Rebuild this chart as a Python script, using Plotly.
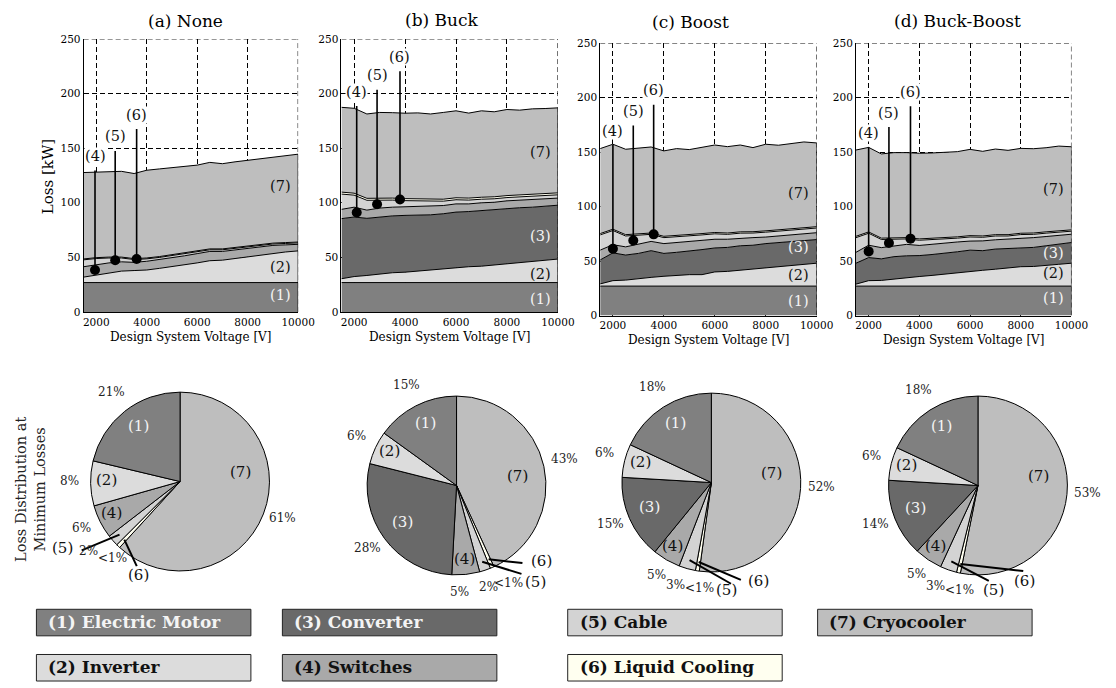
import numpy as np
import plotly.graph_objects as go

SERIF = "DejaVu Serif"
W, H = 1116, 688

# ---------------------------------------------------------------- data
voltage = [1500, 2000, 2500, 3000, 3500, 4000, 4500, 5000, 5500,
           6000, 6500, 7000, 7500, 8000, 8500, 9000, 9500, 10000]

components = ["(1) Electric Motor", "(2) Inverter", "(3) Converter", "(4) Switches",
              "(5) Cable", "(6) Liquid Cooling", "(7) Cryocooler"]
fill_colors = ["#808080", "#dcdcdc", "#696969", "#a9a9a9", "#d3d3d3", "#fffff0", "#bebebe"]
text_colors = ["#f4f4f4", "#111111", "#f4f4f4", "#111111", "#111111", "#111111", "#111111"]

# losses in kW, one list per component, topology "None"
motor_none = [27, 27, 27, 27, 27, 27, 27, 27, 27, 27, 27, 27, 27, 27, 27, 27, 27, 27]
inverter_none = [5, 7, 9, 10.5, 11, 11.5, 13, 14.5, 16, 18, 20, 20.5, 22, 23.5, 25.5, 27, 28, 29]
converter_none = [0, 0, 0, 0, 0, 0, 0, 0, 0, 0, 0, 0, 0, 0, 0, 0, 0, 0]
switches_none = [9.5, 9.5, 9.0, 8.5, 7.5, 8.0, 8.0, 8.5, 8.5, 8.5, 8.5, 8.0, 8.0, 7.5, 7.0, 7.0, 6.5, 6.0]
cable_none = [6.3, 5.5, 4.5, 3.5, 2.6, 2.2, 2.0, 1.8, 1.7, 1.6, 1.5, 1.5, 1.4, 1.4, 1.3, 1.3, 1.3, 1.3]
cooling_none = [0.8, 0.8, 0.8, 0.8, 0.8, 0.8, 0.8, 0.8, 0.8, 0.8, 0.8, 0.8, 0.8, 0.8, 0.8, 0.8, 0.8, 0.8]
cryo_none = [79.1, 78.2, 78.2, 78.5, 77.9, 80.3, 80.2, 79.4, 79.2, 78.6, 79.2, 78.0, 78.3, 78.8, 78.9, 78.9, 79.7, 80.4]

# topology "Buck"
motor_buck = [27, 27, 27, 27, 27, 27, 27, 27, 27, 27, 27, 27, 27, 27, 27, 27, 27, 27]
inverter_buck = [3.5, 5.5, 6.5, 8, 9, 9.5, 10.5, 11.5, 13, 14, 14.5, 15, 16, 17, 18, 19, 20.5, 21.5]
converter_buck = [55, 54.5, 52.3, 52.2, 52, 52, 51.3, 50.5, 50, 50.5, 50.5, 51, 50.5, 50.8, 50.5, 50, 49.5, 49.3]
switches_buck = [8.5, 9, 7.5, 8, 8, 8, 8, 8, 7.5, 7.5, 7, 7, 7, 7, 7, 6.8, 6.6, 6.5]
cable_buck = [14, 11, 9, 7.5, 6.5, 5.5, 5, 4.5, 4, 3.8, 3.5, 3.3, 3.2, 3, 3, 3, 3, 3]
cooling_buck = [1.8, 1.8, 1.8, 1.8, 1.8, 1.8, 1.8, 1.8, 1.8, 1.8, 1.8, 1.8, 1.8, 1.8, 1.8, 1.8, 1.8, 1.8]
cryo_buck = [77.6, 77.7, 77.2, 78.2, 78.2, 78.2, 78.7, 78.0, 79.4, 79.6, 77.8, 79.1, 77.8, 78.8, 77.5, 78.4, 77.9, 77.8]

# topology "Boost"
motor_boost = [27, 27, 27, 27, 27, 27, 27, 27, 27, 27, 27, 27, 27, 27, 27, 27, 27, 27]
inverter_boost = [2, 5, 5.5, 7, 8, 9, 10, 10.5, 10.5, 13, 13.5, 14.5, 15.5, 17, 18, 18.5, 20, 21]
converter_boost = [22, 25.5, 23, 23, 24.5, 21, 21, 21.5, 23, 22, 22, 22.5, 22, 22, 22, 22.5, 22, 21.7]
switches_boost = [9, 7.5, 7.5, 8.5, 8.5, 9, 9, 9, 8.5, 8, 7.5, 7, 7, 6, 6, 6, 6, 6.3]
cable_boost = [14, 13, 10, 8, 6.5, 5.5, 5.2, 5, 5, 5, 4.5, 4.6, 4.2, 4.5, 4.3, 4.3, 4.3, 4.3]
cooling_boost = [1.2, 1.2, 1.2, 1.2, 1.2, 1.2, 1.2, 1.2, 1.2, 1.2, 1.2, 1.2, 1.2, 1.2, 1.2, 1.2, 1.2, 1.2]
cryo_boost = [78.0, 78.0, 78.4, 79.1, 79.0, 78.4, 79.8, 78.1, 79.3, 80.3, 79.3, 79.7, 77.2, 79.5, 77.8, 78.3, 78.8, 76.9]

# topology "Buck-Boost"
motor_bb = [27, 27, 27, 27, 27, 27, 27, 27, 27, 27, 27, 27, 27, 27, 27, 27, 27, 27]
inverter_bb = [1.8, 5, 5.2, 6.5, 8, 8.8, 9.8, 11, 12.5, 14, 14.5, 15.5, 16.5, 17.8, 18, 18.7, 20, 21]
converter_bb = [19.2, 21.2, 19.8, 20.5, 19.8, 19.2, 19.2, 19, 19, 19, 18, 18.5, 18, 17.7, 17.5, 18.3, 18.5, 19]
switches_bb = [10, 11.3, 10.3, 10, 10.5, 9.3, 9.5, 9.5, 9, 8.3, 9, 8.5, 8.5, 8.2, 9, 8.5, 8, 7.6]
cable_bb = [13.5, 11, 7.5, 6, 5, 4.8, 4.2, 3.6, 3.5, 3.8, 3.3, 3.5, 3, 3.6, 3, 3.1, 3, 2.8]
cooling_bb = [1.2, 1.2, 1.2, 1.2, 1.2, 1.2, 1.2, 1.2, 1.2, 1.2, 1.2, 1.2, 1.2, 1.2, 1.2, 1.2, 1.2, 1.2]
cryo_bb = [79.2, 77.6, 77.3, 78.3, 78.0, 78.6, 78.3, 78.2, 78.2, 79.2, 77.7, 78.6, 77.4, 77.9, 77.4, 77.2, 77.8, 76.3]

# loss distribution at the minimum-loss design point, percent
share_none = [21, 8, 0, 6, 2, 0.7, 61]
share_buck = [15, 6, 28, 5, 2, 0.7, 43]
share_boost = [18, 6, 15, 5, 3, 0.7, 52]
share_bb = [18, 6, 14, 5, 3, 0.7, 53]
share_text_none = ["21%", "8%", "", "6%", "2%", "&lt;1%", "61%"]
share_text_buck = ["15%", "6%", "28%", "5%", "2%", "&lt;1%", "43%"]
share_text_boost = ["18%", "6%", "15%", "5%", "3%", "&lt;1%", "52%"]
share_text_bb = ["18%", "6%", "14%", "5%", "3%", "&lt;1%", "53%"]

titles = ["(a) None", "(b) Buck", "(c) Boost", "(d) Buck-Boost"]
y_ticks = [0, 50, 100, 150, 200, 250]
x_ticks = [2000, 4000, 6000, 8000, 10000]
x_tick_text = ["2000", "4000", "6000", "8000", "10000"]

# ---------------------------------------------------------------- layout geometry (pixels)
axes_px = [(84, 302, 33.5, 311.5), (346, 566, 33.5, 311.5),
           (609, 829, 37.8, 315), (869, 1088, 37.8, 315)]
title_px = [(188, 18), (448, 17), (701, 19), (972, 18)]
area_label_y = [
    {0: 13, 1: 38.5, 6: 113},
    {0: 9.5, 1: 32, 2: 67, 6: 144},
    {0: 10.5, 1: 34.5, 2: 60, 6: 110},
    {0: 13.5, 1: 36, 2: 55, 6: 113},
]
callout_x = [[1950, 2750, 3600], [2100, 2900, 3800], [2000, 2800, 3600], [2000, 2800, 3650]]
callout_label_y = [[140, 158, 178], [199, 214, 231], [167, 185, 204], [165, 183.5, 202.5]]

pie_center = [(182, 484), (463, 488), (722, 485), (993, 488)]
PIE_R = 91
slice_label_r = [0.75, 0.82, 0.75, 0.86, None, None, 0.68]
slice_label_angle = {6: 276}   # the cryocooler label sits just above three o'clock
# sideways nudge of the percentages around the thinnest slices, px
pct_nudge = [{4: -9, 5: 9}, {3: -9, 4: -3, 5: 8}, {4: -6, 5: 6}, {4: -6, 5: 6}]
# leader lines for the thin slices: (end offset, label offset) in px from the pie centre
leaders = [
    {4: ((-100, 70), (-119, 71)), 5: ((-44, 86), (-42, 98))},
    {4: ((66, 90), (80, 101)), 5: ((67, 79), (86, 80))},
    {4: ((20, 103), (15, 112)), 5: ((30, 99), (48, 103))},
    {4: ((11, 97), (16, 109)), 5: ((46, 87), (47, 100))},
]

legend_cols = [36, 286, 576, 830]
legend_rows = [(614, 641), (660, 687)]
legend_slot = [(0, 0), (0, 1), (1, 0), (1, 1), (2, 0), (2, 1), (3, 0)]
LEGEND_W = 218

panels = [
    [motor_none, inverter_none, converter_none, switches_none, cable_none, cooling_none, cryo_none],
    [motor_buck, inverter_buck, converter_buck, switches_buck, cable_buck, cooling_buck, cryo_buck],
    [motor_boost, inverter_boost, converter_boost, switches_boost, cable_boost, cooling_boost, cryo_boost],
    [motor_bb, inverter_bb, converter_bb, switches_bb, cable_bb, cooling_bb, cryo_bb],
]
shares = [share_none, share_buck, share_boost, share_bb]
share_texts = [share_text_none, share_text_buck, share_text_boost, share_text_bb]


def px(x):
    return x / W


def py(y):
    return 1 - y / H


def text(x, y, s, size, color="#111", xref="paper", yref="paper", angle=0,
         xanchor="center", bold=False, yshift=3, bg=None):
    d = dict(x=x, y=y, xref=xref, yref=yref, text=f"<b>{s}</b>" if bold else s,
             showarrow=False, textangle=angle, xanchor=xanchor, yanchor="middle",
             yshift=yshift, font=dict(family=SERIF, size=size, color=color))
    if bg:
        d.update(bgcolor=bg, borderpad=0)
    return d


fig = go.Figure()
annotations = []
shapes = []
GRID_DASH = "5px,3px"

for i, layers in enumerate(panels):
    xa = "x" if i == 0 else f"x{i + 1}"
    ya = "y" if i == 0 else f"y{i + 1}"

    # dashed frame on the top and right edges
    shapes.append(dict(type="line", xref=xa, yref=ya, x0=1500, x1=10000, y0=250, y1=250,
                       layer="below", line=dict(color="black", width=1, dash=GRID_DASH)))
    shapes.append(dict(type="line", xref=xa, yref=ya, x0=10000, x1=10000, y0=0, y1=250,
                       layer="below", line=dict(color="black", width=1, dash=GRID_DASH)))

    for k, vals in enumerate(layers):
        if not any(vals):
            continue
        fig.add_trace(go.Scatter(
            x=voltage, y=vals, stackgroup=f"stack{i}", mode="lines",
            line=dict(color="black", width=1), fillcolor=fill_colors[k],
            xaxis=xa, yaxis=ya, hoverinfo="skip", showlegend=False))

    cum = np.cumsum(np.array(layers, dtype=float), axis=0)
    # closing edge of the stacked area at the highest voltage
    fig.add_trace(go.Scatter(x=[voltage[-1], voltage[-1]], y=[0, cum[-1][-1]], mode="lines",
                             line=dict(color="black", width=1), xaxis=xa, yaxis=ya,
                             hoverinfo="skip", showlegend=False))

    # callouts for the thin layers (4), (5), (6)
    for j, k in enumerate([3, 4, 5]):
        cx = callout_x[i][j]
        lo = np.interp(cx, voltage, cum[k - 1])
        hi = np.interp(cx, voltage, cum[k])
        mid = (lo + hi) / 2
        ly = callout_label_y[i][j]
        fig.add_trace(go.Scatter(x=[cx, cx], y=[mid, ly - 10.5], mode="lines",
                                 line=dict(color="black", width=1.6), xaxis=xa, yaxis=ya,
                                 hoverinfo="skip", showlegend=False))
        fig.add_trace(go.Scatter(x=[cx], y=[mid], mode="markers",
                                 marker=dict(color="black", size=10), xaxis=xa, yaxis=ya,
                                 hoverinfo="skip", showlegend=False))
        annotations.append(text(cx, ly, f"({k + 1})", 14.5, "#111", xa, ya, bg="white"))

    for k, yv in area_label_y[i].items():
        annotations.append(text(9300, yv, f"({k + 1})", 14.5, text_colors[k], xa, ya))

    x0, x1, y0, y1 = axes_px[i]
    axis_x = dict(domain=[px(x0), px(x1)], range=[1500, 10000], tickvals=x_ticks, ticktext=x_tick_text,
                  showgrid=True, gridcolor="black", gridwidth=1, griddash=GRID_DASH,
                  showline=True, linecolor="black", linewidth=1, ticks="", zeroline=False,
                  tickfont=dict(family=SERIF, size=10.5, color="black"), anchor=ya)
    axis_y = dict(domain=[py(y1), py(y0)], range=[0, 250], tickvals=y_ticks,
                  showgrid=True, gridcolor="black", gridwidth=1, griddash=GRID_DASH,
                  showline=True, linecolor="black", linewidth=1, ticks="", zeroline=False,
                  tickfont=dict(family=SERIF, size=10.5, color="black"), anchor=xa)
    key = "" if i == 0 else str(i + 1)
    fig.update_layout(**{f"xaxis{key}": axis_x, f"yaxis{key}": axis_y})

    tx, ty = title_px[i]
    annotations.append(text(px(tx), py(ty), titles[i], 17, "black"))
    annotations.append(text(px((x0 + x1) / 2), py(y1 + 25), "Design System Voltage [V]", 12,
                            "black", yshift=0))

annotations.append(text(px(48), py(174), "Loss [kW]", 15, "black", angle=-90, yshift=0))

# ---------------------------------------------------------------- pies
for i, sh in enumerate(shares):
    cx, cy = pie_center[i]
    idx = [k for k in range(7) if sh[k] > 0]
    # drawn clockwise from 12 o'clock in reverse order, so component (1) opens
    # counter-clockwise from the top
    rev = idx[::-1]
    fig.add_trace(go.Pie(
        values=[sh[k] for k in rev], labels=[components[k] for k in rev],
        marker=dict(colors=[fill_colors[k] for k in rev], line=dict(color="black", width=1)),
        sort=False, direction="clockwise", rotation=0, textinfo="none",
        hoverinfo="skip", showlegend=False,
        domain=dict(x=[px(cx - PIE_R), px(cx + PIE_R)], y=[py(cy + PIE_R), py(cy - PIE_R)])))

    total = sum(sh[k] for k in idx)
    before = 0.0
    for k in idx:
        mid_deg = 360 * (before + sh[k] / 2) / total
        before += sh[k]

        def at(r, deg):
            t = np.radians(deg)
            return cx - r * np.sin(t), cy - r * np.cos(t)

        qx, qy = at(1.23 * PIE_R, mid_deg)
        qx += pct_nudge[i].get(k, 0)
        annotations.append(text(px(qx), py(qy), share_texts[i][k], 12, "#222"))
        if slice_label_r[k] is not None:
            lx, ly = at(slice_label_r[k] * PIE_R, slice_label_angle.get(k, mid_deg))
            annotations.append(text(px(lx), py(ly), f"({k + 1})", 15, text_colors[k]))
        else:
            (ex, ey), (tx, ty) = leaders[i][k]
            sx, sy = at(0.9 * PIE_R, mid_deg)
            shapes.append(dict(type="line", xref="paper", yref="paper",
                               x0=px(sx), y0=py(sy), x1=px(cx + ex), y1=py(cy + ey),
                               line=dict(color="black", width=2)))
            annotations.append(text(px(cx + tx), py(cy + ty), f"({k + 1})", 15, "#111"))

annotations.append(text(px(30), py(492), "Loss Distribution at<br>Minimum Losses", 14.5, "#222",
                        angle=-90, yshift=0))

# ---------------------------------------------------------------- legend boxes
for k, name in enumerate(components):
    c, r = legend_slot[k]
    x0 = legend_cols[c]
    y0, y1 = legend_rows[r]
    shapes.append(dict(type="rect", xref="paper", yref="paper",
                       x0=px(x0), x1=px(x0 + LEGEND_W), y0=py(y1), y1=py(y0),
                       fillcolor=fill_colors[k], line=dict(color="#222", width=1)))
    annotations.append(text(px(x0 + 10), py((y0 + y1) / 2), name, 17, text_colors[k],
                            xanchor="left", bold=True, yshift=1))

fig.update_layout(width=W, height=H, margin=dict(l=0, r=0, t=0, b=0),
                  paper_bgcolor="white", plot_bgcolor="white", showlegend=False,
                  annotations=annotations, shapes=shapes)

fig.write_html("out.html")
